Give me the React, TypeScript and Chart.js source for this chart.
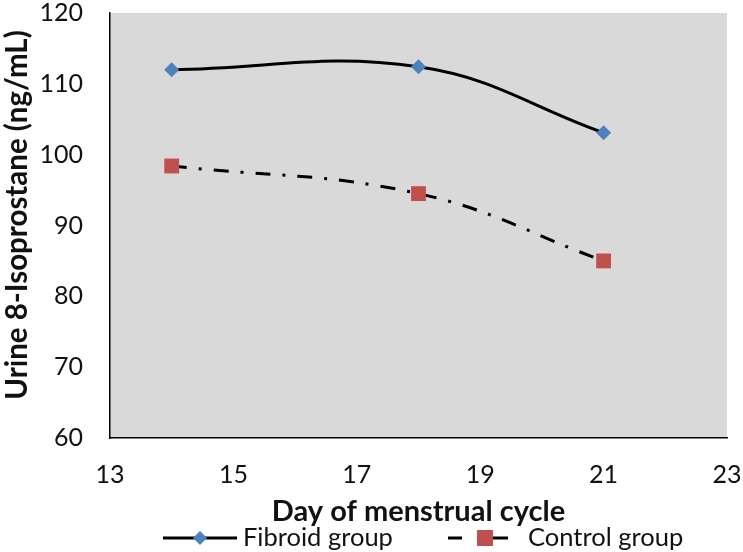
import React, { useEffect, useRef } from "react";
import { Chart, registerables } from "chart.js";

Chart.register(...registerables);

const days = [14, 18, 21];
const fibroidValues = [112, 112.4, 103.1];
const controlValues = [98.4, 94.5, 85];
const xTicks = [13, 15, 17, 19, 21, 23];
const yTicks = [60, 70, 80, 90, 100, 110, 120];
const seriesNames = ["Fibroid group", "Control group"];
const xTitle = "Day of menstrual cycle";
const yTitle = "Urine 8-Isoprostane (ng/mL)";

const FONT = "Lato, 'Open Sans', sans-serif";
const TEXT = "#111111";
const BLUE = "#4F81BD";
const RED = "#C0504D";
const DASH = [15, 12, 3, 12];

function drawDiamond(ctx: CanvasRenderingContext2D, x: number, y: number, r: number) {
  ctx.beginPath();
  ctx.moveTo(x, y - r);
  ctx.lineTo(x + r, y);
  ctx.lineTo(x, y + r);
  ctx.lineTo(x - r, y);
  ctx.closePath();
  ctx.fillStyle = BLUE;
  ctx.fill();
}

const decorPlugin = {
  id: "decor",
  beforeDraw(chart: any) {
    const { ctx, chartArea } = chart;
    ctx.save();
    ctx.fillStyle = "#D9D9D9";
    ctx.fillRect(chartArea.left, chartArea.top, chartArea.right - chartArea.left, chartArea.bottom - chartArea.top);
    ctx.restore();
  },
  afterDraw(chart: any) {
    const { ctx, chartArea } = chart;
    ctx.save();
    ctx.fillStyle = TEXT;
    ctx.textAlign = "center";
    ctx.textBaseline = "middle";
    // x title
    ctx.font = `bold 29px ${FONT}`;
    ctx.fillText(xTitle, (chartArea.left + chartArea.right) / 2, 512);
    // y title
    ctx.font = `bold 29.5px ${FONT}`;
    ctx.save();
    ctx.translate(17, 215);
    ctx.rotate(-Math.PI / 2);
    ctx.fillText(yTitle, 0, 0);
    ctx.restore();

    // legend
    const ly = 538;
    ctx.font = `25.5px ${FONT}`;
    ctx.textAlign = "left";
    ctx.strokeStyle = "#000";
    ctx.lineWidth = 3;
    ctx.setLineDash([]);
    ctx.beginPath();
    ctx.moveTo(163, ly);
    ctx.lineTo(237, ly);
    ctx.stroke();
    drawDiamond(ctx, 200, ly, 7);
    ctx.fillStyle = TEXT;
    ctx.fillText(seriesNames[0], 243, ly);
    ctx.beginPath();
    ctx.moveTo(448, ly);
    ctx.lineTo(462, ly);
    ctx.moveTo(493, ly);
    ctx.lineTo(508, ly);
    ctx.stroke();
    ctx.fillStyle = RED;
    ctx.fillRect(477, ly - 8, 16, 16);
    ctx.fillStyle = TEXT;
    ctx.fillText(seriesNames[1], 528, ly);
    ctx.restore();
  },
};

export default function App() {
  const ref = useRef<HTMLCanvasElement | null>(null);
  useEffect(() => {
    if (!ref.current) return;
    const chart = new Chart(ref.current, {
      type: "line",
      data: {
        datasets: [
          {
            label: seriesNames[0],
            data: days.map((d, i) => ({ x: d, y: fibroidValues[i] })),
            borderColor: "#000",
            borderWidth: 3,
            tension: 0.4,
            pointStyle: "rectRot",
            pointRadius: 7.5,
            pointBackgroundColor: BLUE,
            pointBorderColor: BLUE,
            pointBorderWidth: 0,
          },
          {
            label: seriesNames[1],
            data: days.map((d, i) => ({ x: d, y: controlValues[i] })),
            borderColor: "#000",
            borderWidth: 3,
            borderDash: DASH,
            tension: 0.4,
            pointStyle: "rect",
            pointRadius: 10.5,
            pointBackgroundColor: RED,
            pointBorderColor: RED,
            pointBorderWidth: 0,
          },
        ],
      },
      options: {
        animation: false,
        responsive: true,
        maintainAspectRatio: false,
        layout: { padding: { top: 13, right: 16, left: 0, bottom: 0 } },
        plugins: { legend: { display: false }, tooltip: { enabled: false } },
        scales: {
          x: {
            type: "linear",
            min: 13,
            max: 23,
            afterBuildTicks: (s: any) => {
              s.ticks = xTicks.map((v) => ({ value: v }));
            },
            afterFit: (s: any) => {
              s.height = 114;
              s.paddingLeft = 0;
              s.paddingRight = 0;
              s.paddingTop = 0;
              s.paddingBottom = 0;
            },
            ticks: { font: { family: FONT, size: 25, lineHeight: 1 }, color: TEXT, padding: 24, maxRotation: 0 },
            grid: { display: false, drawTicks: false },
            border: { display: true, color: "#000", width: 1.5 },
          },
          y: {
            type: "linear",
            min: 60,
            max: 120,
            afterBuildTicks: (s: any) => {
              s.ticks = yTicks.map((v) => ({ value: v }));
            },
            afterFit: (s: any) => {
              s.width = 110;
              s.paddingLeft = 0;
              s.paddingRight = 0;
              s.paddingTop = 0;
              s.paddingBottom = 0;
            },
            ticks: { font: { family: FONT, size: 25, lineHeight: 1 }, color: TEXT, padding: 27 },
            grid: { display: false, drawTicks: false },
            border: { display: true, color: "#000", width: 1.5 },
          },
        },
      },
      plugins: [decorPlugin],
    });
    return () => chart.destroy();
  }, []);
  return (
    <div style={{ position: "absolute", left: 0, top: 0, width: 743, height: 552, background: "#fff" }}>
      <canvas ref={ref} />
    </div>
  );
}
